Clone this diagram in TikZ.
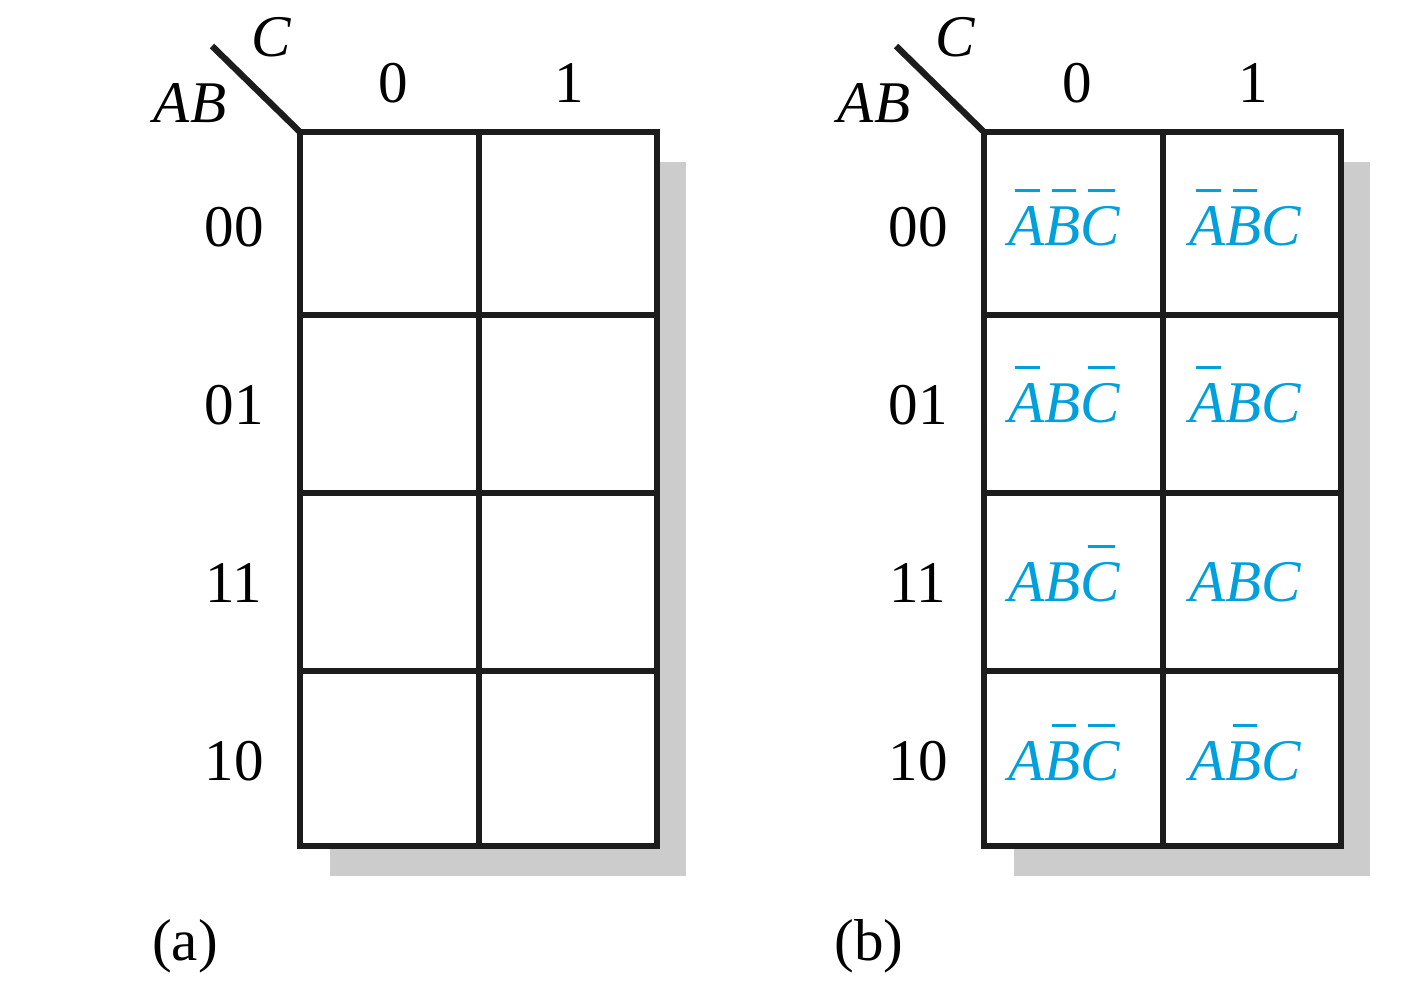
\documentclass[tikz,border=0pt]{standalone}
\usepackage{fontspec}
\setmainfont{Liberation Serif}
\definecolor{kline}{RGB}{28,28,28}
\definecolor{kshadow}{RGB}{204,204,204}
\definecolor{kcyan}{RGB}{0,160,220}
% complemented variable: letter with a short bar above it
\newcommand{\nt}[1]{\setbox0\hbox{#1}\rlap{\hspace{0.2\wd0}\rule[\dimexpr\ht0+4pt\relax]{0.68\wd0}{0.9pt}}\box0}

\begin{document}
\begin{tikzpicture}[x=0.01cm, y=-0.01cm, font=\fontsize{16.8}{20}\selectfont,
    kgrid/.style={draw=kline, line width=1.8pt},
    kterm/.style={text=kcyan, anchor=base, inner sep=0pt, font=\fontsize{16.8}{20}\selectfont\itshape}]
    \useasboundingbox (0,0) rectangle (1428,999);
    % the two maps, (b) shifted right
    \foreach \m/\dx/\lab in {a/0/(a), b/684/(b)} {
        \begin{scope}[shift={(\dx,0)}]
            \fill[kshadow] (330,162) rectangle (686,876);
            \fill[white] (300,132) rectangle (657,846);
            \coordinate (\m-nw)  at (300,132);
            \coordinate (\m-se)  at (657,846);
            \coordinate (\m-tip) at (212,46);
            \draw[kgrid] (\m-nw) rectangle (\m-se);
            \draw[kgrid] (479,132) -- (479,846);
            \foreach \yy in {315, 493, 671}
                \draw[kgrid] (300,\yy) -- (657,\yy);
            \draw[kgrid] (\m-tip) -- (\m-nw);
            \node (\m-C)  at (271,37)  {\textit{C}};
            \node (\m-AB) at (190,103) {\textit{AB}};
            \node (\m-c0) at (393,83)  {0};
            \node (\m-c1) at (569,83)  {1};
            \foreach \rw/\yy in {00/227, 01/405, 11/583, 10/761}
                \node (\m-r\rw) at (234,\yy) {\rw};
            \node (\m-lab) at (185,946) {\lab};
        \end{scope}
    }
    % minterms in map (b)
    \foreach \rw/\yy/\ta/\tb in {00/245/{\nt{A}\nt{B}\nt{C}}/{\nt{A}\nt{B}C},
                                 01/422/{\nt{A}B\nt{C}}/{\nt{A}BC},
                                 10/780/{A\nt{B}\nt{C}}/{A\nt{B}C},
                                 11/601/{AB\nt{C}}/{ABC}} {
        \node[kterm] (b-\rw-0) at (1064,\yy) {\ta};
        \node[kterm] (b-\rw-1) at (1245,\yy) {\tb};
    }
\end{tikzpicture}
\end{document}
